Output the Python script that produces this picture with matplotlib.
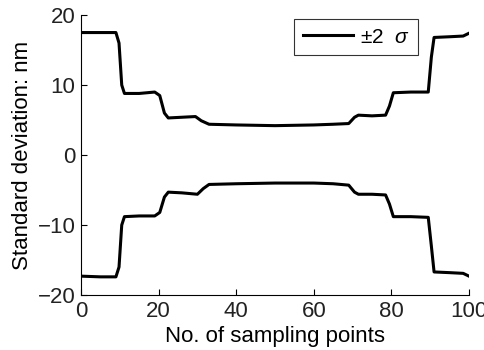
import matplotlib
matplotlib.use("Agg")
import matplotlib.pyplot as plt

plt.rcParams['font.family'] = ['Liberation Sans', 'DejaVu Sans']
plt.rcParams['mathtext.fontset'] = 'custom'
plt.rcParams['mathtext.it'] = 'Liberation Sans:italic'
plt.rcParams['mathtext.rm'] = 'Liberation Sans'

x_upper = [0, 5, 9, 9.8, 10.5, 11.2, 15, 19, 20.3, 21.5, 22.5, 26, 29.5, 31, 33, 40, 50, 60, 65, 69, 70.5, 71.5, 75, 78.5, 79.5, 80.5, 85, 89.5, 90.3, 91, 95, 98.5, 100]
y_upper = [17.5, 17.5, 17.5, 16, 10, 8.8, 8.8, 9.0, 8.5, 6, 5.3, 5.4, 5.5, 4.9, 4.4, 4.3, 4.2, 4.3, 4.4, 4.5, 5.4, 5.7, 5.6, 5.7, 7, 8.9, 9.0, 9.0, 14, 16.8, 16.9, 17.0, 17.4]

x_lower = [0, 5, 9, 9.8, 10.5, 11.2, 15, 19, 20.3, 21.5, 22.5, 26, 30, 31.5, 33, 40, 50, 60, 65, 69, 70.5, 71.5, 75, 78.5, 79.5, 80.5, 85, 89.5, 90.3, 91, 95, 98.5, 100]
y_lower = [-17.3, -17.4, -17.4, -16, -10, -8.8, -8.7, -8.7, -8.2, -6, -5.3, -5.4, -5.6, -4.8, -4.2, -4.1, -4.0, -4.0, -4.1, -4.3, -5.3, -5.6, -5.6, -5.7, -7, -8.8, -8.8, -8.9, -13, -16.7, -16.8, -16.9, -17.3]

legend_label = r'$\pm$2  $\sigma$'

fig = plt.figure(figsize=(4.85, 3.5), dpi=100)
ax = fig.add_axes([0.167, 0.157, 0.8, 0.8])
ax.plot(x_upper, y_upper, color='black', lw=2.2, label=legend_label, solid_joinstyle='round')
ax.plot(x_lower, y_lower, color='black', lw=2.2, solid_joinstyle='round')
ax.set_xlim(0, 100)
ax.set_ylim(-20, 20)
ax.set_xticks([0, 20, 40, 60, 80, 100])
ax.set_yticks([-20, -10, 0, 10, 20])
ax.spines['top'].set_visible(False)
ax.spines['right'].set_visible(False)
ax.tick_params(direction='in', length=4, labelsize=16, labelcolor='#222222')
ax.tick_params(axis='x', pad=4)
ax.tick_params(axis='y', pad=4)
ax.set_xlabel('No. of sampling points', fontsize=16, labelpad=3)
ax.set_ylabel('Standard deviation: nm', fontsize=16, labelpad=3)
leg = ax.legend(loc='upper right', bbox_to_anchor=(0.869, 0.985), fontsize=15, frameon=True,
                fancybox=False, edgecolor='black', handlelength=2.4, handletextpad=0.35,
                borderpad=0.4, borderaxespad=0)
leg.get_frame().set_linewidth(0.8)
fig.savefig('out.png', dpi=100)
